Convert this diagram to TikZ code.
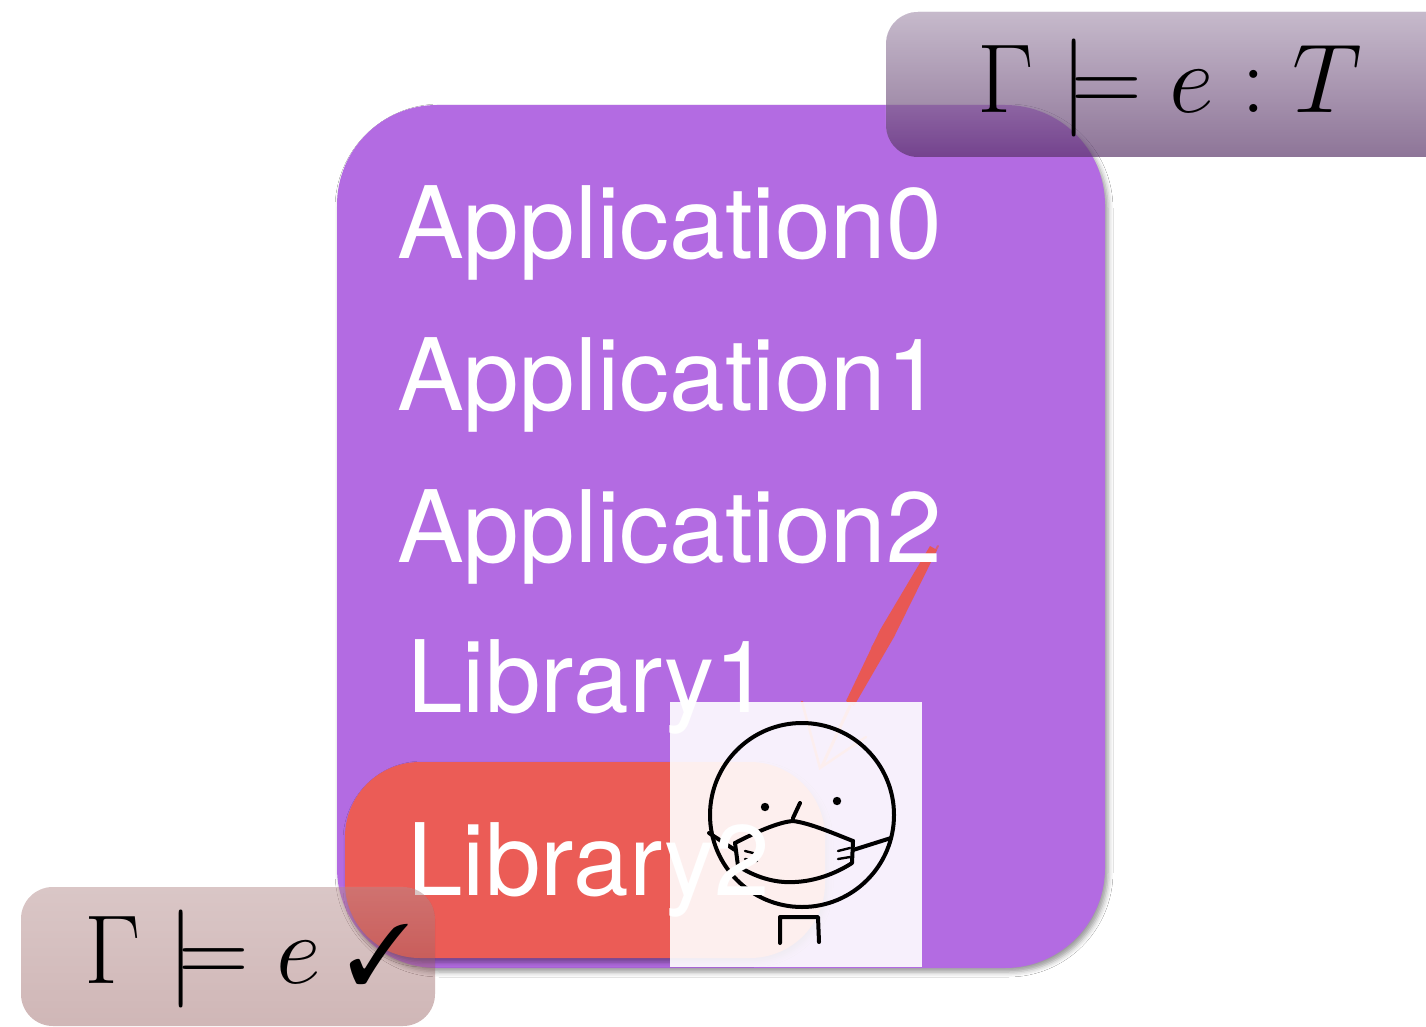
\RequirePackage{fix-cm}
\documentclass[tikz,border=0pt]{standalone}
\usepackage{amsmath,amssymb}
\usepackage{pifont}
\usepackage{fontspec}
\setsansfont{TeX Gyre Heros}
\usetikzlibrary{shadows.blur,fadings}

\definecolor{appPurple}{RGB}{179,107,226}
\definecolor{libRed}{RGB}{235,92,86}
\definecolor{pencilRed}{RGB}{232,88,84}
\definecolor{typeBase}{RGB}{84,47,100}
\definecolor{okBase}{RGB}{120,45,45}

\begin{document}
\begin{tikzpicture}[x=1pt,y=-1pt,
  modlabel/.style={font=\fontsize{100}{100}\selectfont\sffamily, text=white,
    anchor=base west, inner sep=0pt},
  judgement/.style={font=\fontsize{98}{98}\selectfont, text=black,
    anchor=base west, inner sep=0pt},
  sketch/.style={line width=4pt, black, line cap=round, line join=round},
  pencil/.style={pencilRed, line cap=round},
  softshadow/.style={blur shadow={shadow xshift=3pt, shadow yshift=-4pt,
    shadow blur radius=5pt, shadow opacity=40}}]
\useasboundingbox (0,0) rectangle (1426,1027);
\clip (0,0) rectangle (1426,1027);
\fill[white] (0,0) rectangle (1426,1027);

% module stack
\fill[appPurple, rounded corners=100pt, softshadow] (337,105) rectangle (1105,968);

% highlighted library
\fill[libRed, rounded corners=75pt, softshadow] (345,762) rectangle (825,958);

% pencil stroke pointing at the highlighted library
\fill[pencilRed] (930,546) -- (880,630) -- (846,701) -- (854,706)
  -- (894,637) -- (937,550) -- cycle;
\draw[pencil, line width=2pt, opacity=0.7] (938,546) -- (884,645);
\draw[pencil, line width=2pt, opacity=0.7] (926,556) -- (872,648);
\draw[pencil, line width=3pt] (850,706) -- (822,766);
\draw[pencil, line width=2.5pt] (802,702) -- (820,768) -- (866,737);

% translucent picture panel
\fill[white, fill opacity=0.9] (670,702) rectangle (922,967);

% masked face
\draw[sketch] (802,815) circle[radius=92];
\fill (765,807) circle[radius=4.2];
\fill (837,801) circle[radius=4.2];
\draw[sketch] (800,803) -- (793,818);
\draw[sketch] (735,843) .. controls (760,830) and (780,822) .. (793,821)
  .. controls (810,823) and (835,834) .. (853,841);
\draw[sketch] (735,843) -- (738,866) .. controls (760,880) and (780,883) .. (795,882)
  .. controls (815,881) and (835,874) .. (852,863) -- (853,841);
\draw[sketch] (735,850) -- (709,833);
\draw[sketch] (853,850) -- (891,838);
\draw[sketch, line width=2.4pt] (745,851) -- (757,854);
\draw[sketch, line width=2.4pt] (745,859) -- (757,861);
\draw[sketch, line width=2.4pt] (838,851) -- (850,848);
\draw[sketch, line width=2.4pt] (838,859) -- (850,857);
\draw[sketch] (780,943) -- (780,917) -- (818,917) -- (819,942);

% module names
\node[modlabel] (app0) at (397,258) {Application0};
\node[modlabel] (app1) at (397,410) {Application1};
\node[modlabel] (app2) at (397,562) {Application2};
\node[modlabel] (lib1) at (407,712) {Library1};
\node[modlabel] (lib2) at (407,895) {Library2};

% typing judgement
\fill[typeBase, fill opacity=0.66, rounded corners=32pt] (886,12) rectangle (1460,157);
\fill[white, fill opacity=0.5, path fading=south, rounded corners=32pt]
  (886,12) rectangle (1460,157);
\node[judgement] (typed) at (977,113) {$\Gamma \models e : T$};

% well-formedness judgement
\fill[okBase, fill opacity=0.34, rounded corners=32pt] (21,887) rectangle (435,1026);
\fill[white, fill opacity=0.22, path fading=south, rounded corners=32pt]
  (21,887) rectangle (435,1026);
\node[judgement] (checked) at (84,983)
  {$\Gamma \models e$\hspace{26pt}{\fontsize{84}{84}\selectfont\ding{51}}};
\end{tikzpicture}
\end{document}
